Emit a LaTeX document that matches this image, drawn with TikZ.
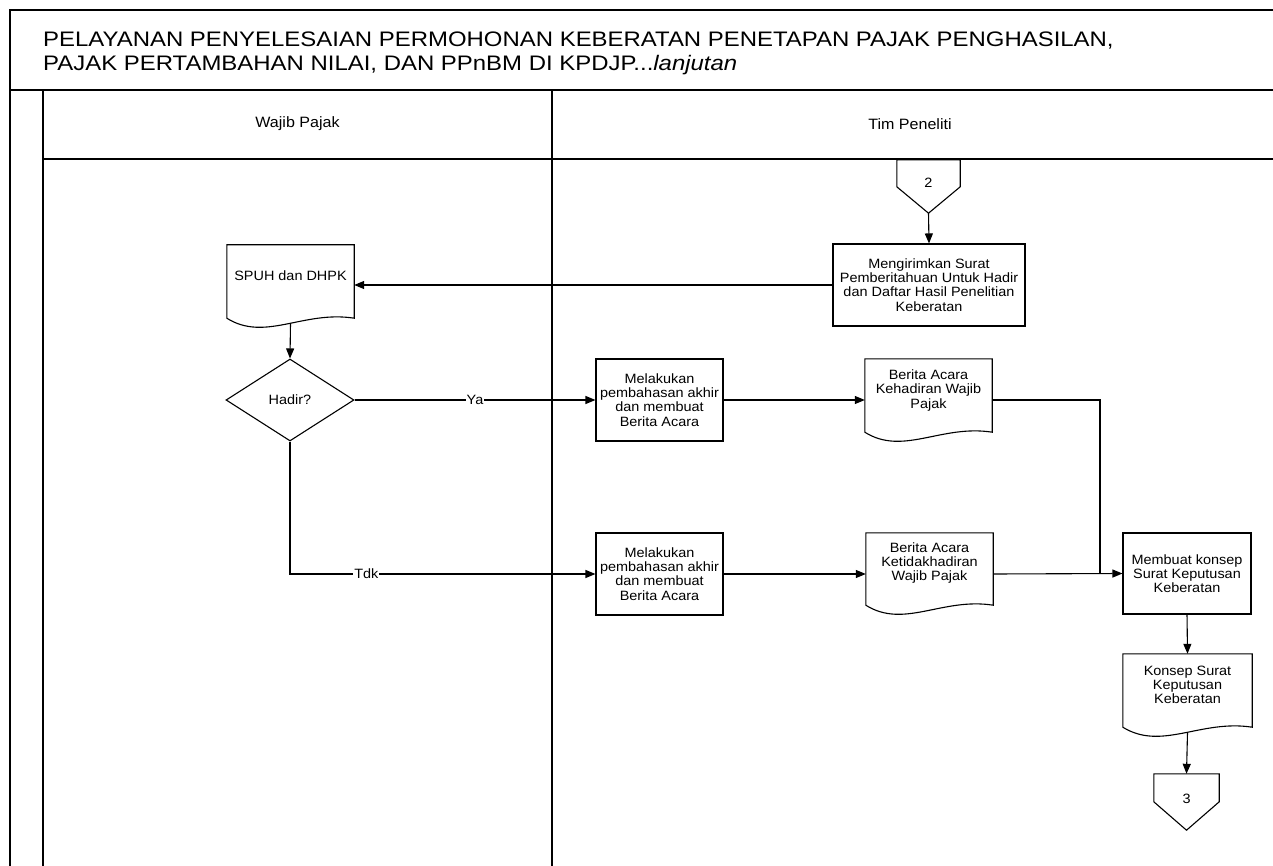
\documentclass[tikz,border=0pt]{standalone}
\usepackage{fontspec}
\setmainfont{Liberation Sans}
\newfontfamily\stretchfont[FakeStretch=1.07]{Liberation Sans}
\newfontfamily\titlefont[FakeStretch=1.14]{Liberation Sans}
\usetikzlibrary{shapes.geometric,arrows.meta,calc}
\newcommand\docoutline[1]{%
  \draw[shapeline] (#1.north west) -- (#1.north east) -- (#1.south east)
    .. controls ($(#1.south east)!0.4!(#1.south west)+(0,-8)$) and ($(#1.south east)!0.7!(#1.south west)+(0,24)$) .. (#1.south west) -- cycle;}
\newcommand\offpageoutline[2]{%
  \draw[shapeline] (#1.north west) -- (#1.north east) -- ($(#1.north east)+(0,#2)$) -- (#1.south) -- ($(#1.north west)+(0,#2)$) -- cycle;}
\begin{document}
\begin{tikzpicture}[x=1pt,y=-1pt,
  every node/.style={font=\stretchfont\fontsize{13.5}{14.2}\selectfont, inner sep=0pt, align=center},
  shapeline/.style={line width=1.1pt, line join=miter},
  procbox/.style={draw, line width=1.1pt, rectangle},
  docnode/.style={rectangle},
  decision/.style={draw, line width=1.1pt, diamond, minimum width=128pt, minimum height=82pt},
  conn/.style={line width=1.1pt, -{Triangle[length=10pt,width=8pt]}},
  plainconn/.style={line width=1.1pt},
  edgelabel/.style={fill=white, inner sep=1pt},
  framethick/.style={line width=2.2pt},
  framethin/.style={line width=1.3pt},
  titletext/.style={font=\titlefont\fontsize{21}{24}\selectfont, anchor=base west},
  lanetext/.style={font=\stretchfont\fontsize{15}{17}\selectfont}
]
\useasboundingbox (0,0) rectangle (1273,866);
% frame
\draw[framethick] (10,866) -- (10,10) -- (1273,10);
\draw[framethick] (10,90) -- (1273,90);
\draw[framethin] (43,90) -- (43,866);
\draw[framethin] (552,90) -- (552,866);
\draw[framethin] (43,159) -- (1273,159);
% title
\node[titletext] (title1) at (43,47) {PELAYANAN PENYELESAIAN PERMOHONAN KEBERATAN PENETAPAN PAJAK PENGHASILAN,};
\node[titletext] (title2) at (43,71) {PAJAK PERTAMBAHAN NILAI, DAN PPnBM DI KPDJP...\textit{lanjutan}};
% lanes
\node[lanetext] (lane1) at (297.5,124) {Wajib Pajak};
\node[lanetext] (lane2) at (910,124) {Tim Peneliti};
% shapes
\node[minimum width=63pt, minimum height=53pt] (c2) at (928.5,186.5) {};
\offpageoutline{c2}{27}
\node (c2t) at (928.5,183) {2};
\node[procbox, minimum width=192pt, minimum height=82pt] (m1) at (929,285) {Mengirimkan Surat\\Pemberitahuan Untuk Hadir\\dan Daftar Hasil Penelitian\\Keberatan};
\node[docnode, minimum width=127pt, minimum height=73pt] (spuh) at (290.5,281.5) {};
\docoutline{spuh}
\node (spuht) at (290.5,276) {SPUH dan DHPK};
\node[decision] (hadir) at (290,400) {Hadir?};
\node[procbox, minimum width=127pt, minimum height=82pt] (b1) at (659.5,400) {Melakukan\\pembahasan akhir\\dan membuat\\Berita Acara};
\node[procbox, minimum width=127pt, minimum height=82pt] (b2) at (659.5,574) {Melakukan\\pembahasan akhir\\dan membuat\\Berita Acara};
\node[docnode, minimum width=127pt, minimum height=73pt] (d1) at (928.5,395.5) {};
\docoutline{d1}
\node (d1t) at (928.5,390.5) {Berita Acara\\Kehadiran Wajib\\Pajak};
\node[docnode, minimum width=127pt, minimum height=72pt] (d2) at (929.5,569) {};
\docoutline{d2}
\node (d2t) at (929.5,563) {Berita Acara\\Ketidakhadiran\\Wajib Pajak};
\node[procbox, minimum width=128pt, minimum height=81pt] (m2) at (1187,573.5) {Membuat konsep\\Surat Keputusan\\Keberatan};
\node[docnode, minimum width=129pt, minimum height=73pt] (d3) at (1187.5,690.5) {};
\docoutline{d3}
\node (d3t) at (1187.5,685) {Konsep Surat\\Keputusan\\Keberatan};
\node[minimum width=65pt, minimum height=56pt] (c3) at (1186.5,802) {};
\offpageoutline{c3}{28}
\node (c3t) at (1186.5,799) {3};
\coordinate (join) at (1100,573);
% connectors
\draw[conn] (c2.south) -- (m1.north);
\draw[conn] (m1.west) -- (m1.west -| spuh.east);
\draw[conn] ($(spuh.south)+(0,5)$) -- (hadir.north);
\draw[conn] (hadir.east) -- node[edgelabel, pos=0.5] {Ya} (b1.west);
\draw[conn] (hadir.south) |- node[edgelabel, pos=0.625] {Tdk} (b2.west);
\draw[conn] (b1.east) -- (b1.east -| d1.west);
\draw[conn] (b2.east) -- (b2.east -| d2.west);
\draw[plainconn] (b1.east -| d1.east) -| (join);
\draw[conn] (b2.east -| d2.east) -- (m2.west);
\draw[conn] (m2.south) -- (d3.north);
\draw[conn] ($(d3.south)+(0,5)$) -- (c3.north);
\end{tikzpicture}
\end{document}
